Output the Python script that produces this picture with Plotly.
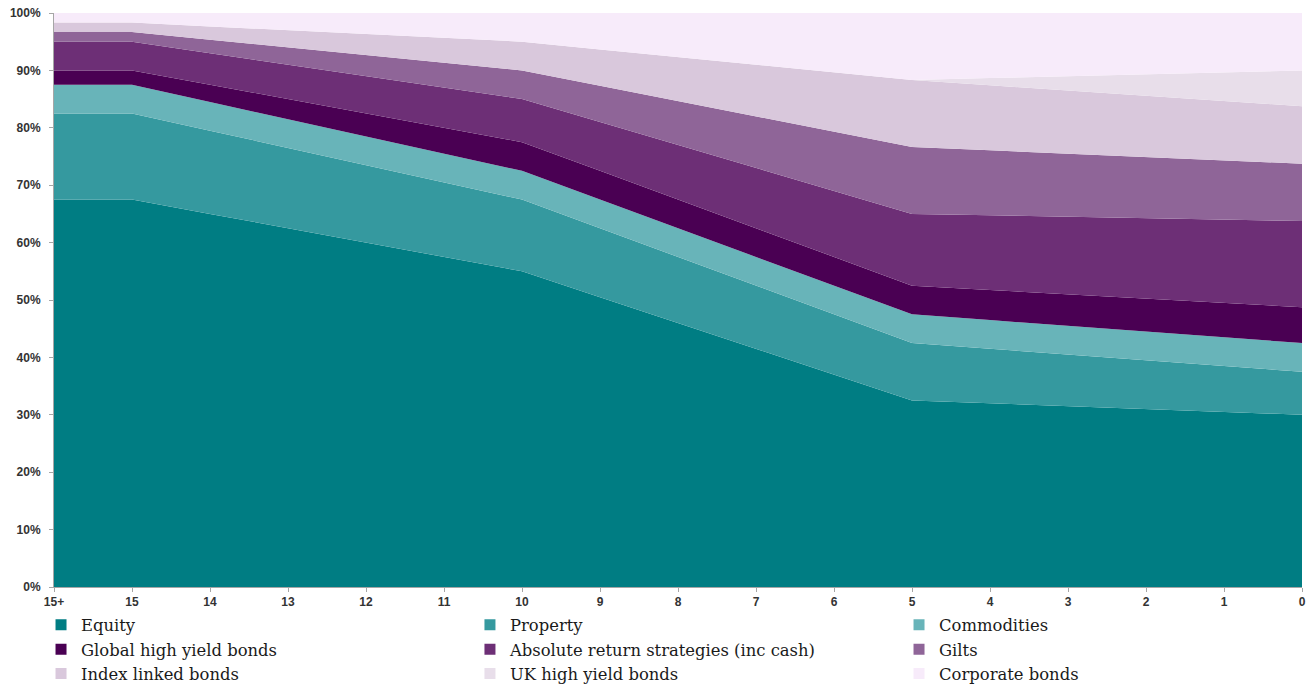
import plotly.graph_objects as go

# Years to retirement along the glide path
years = ["15+", "15", "14", "13", "12", "11", "10", "9", "8", "7", "6",
         "5", "4", "3", "2", "1", "0"]

# Allocation by asset class (% of portfolio)
equity = [67.5, 67.5, 65.0, 62.5, 60.0, 57.5, 55.0, 50.5, 46.0, 41.5, 37.0,
          32.5, 32.0, 31.5, 31.0, 30.5, 30.0]
property_ = [15.0, 15.0, 14.5, 14.0, 13.5, 13.0, 12.5, 12.0, 11.5, 11.0, 10.5,
             10.0, 9.5, 9.0, 8.5, 8.0, 7.5]
commodities = [5.0, 5.0, 5.0, 5.0, 5.0, 5.0, 5.0, 5.0, 5.0, 5.0, 5.0,
               5.0, 5.0, 5.0, 5.0, 5.0, 5.0]
global_hy = [2.5, 2.5, 3.0, 3.5, 4.0, 4.5, 5.0, 5.0, 5.0, 5.0, 5.0,
             5.0, 5.25, 5.5, 5.75, 6.0, 6.25]
absolute_return = [5.0, 5.0, 5.5, 6.0, 6.5, 7.0, 7.5, 8.5, 9.5, 10.5, 11.5,
                   12.5, 13.0, 13.5, 14.0, 14.5, 15.0]
gilts = [1.67, 1.67, 2.33, 3.0, 3.67, 4.33, 5.0, 6.33, 7.67, 9.0, 10.33,
         11.67, 11.33, 11.0, 10.67, 10.33, 10.0]
index_linked = [1.67, 1.67, 2.33, 3.0, 3.67, 4.33, 5.0, 6.33, 7.67, 9.0, 10.33,
                11.67, 11.33, 11.0, 10.67, 10.33, 10.0]
uk_hy = [0.0, 0.0, 0.0, 0.0, 0.0, 0.0, 0.0, 0.0, 0.0, 0.0, 0.0,
         0.0, 1.25, 2.5, 3.75, 5.0, 6.25]
corporate = [1.66, 1.66, 2.34, 3.0, 3.66, 4.34, 5.0, 6.34, 7.66, 9.0, 10.34,
             11.66, 11.34, 11.0, 10.66, 10.34, 10.0]

# name, values, colour, legend column
series = [
    ("Equity", equity, "#007D83", "legend"),
    ("Property", property_, "#35999F", "legend2"),
    ("Commodities", commodities, "#68B4B9", "legend3"),
    ("Global high yield bonds", global_hy, "#4A0053", "legend"),
    ("Absolute return strategies (inc cash)", absolute_return, "#6D2F76", "legend2"),
    ("Gilts", gilts, "#8F6598", "legend3"),
    ("Index linked bonds", index_linked, "#D9C8DC", "legend"),
    ("UK high yield bonds", uk_hy, "#E8DEEA", "legend2"),
    ("Corporate bonds", corporate, "#F7EBFA", "legend3"),
]

fig = go.Figure()
for name, vals, color, _ in series:
    fig.add_trace(go.Scatter(
        x=years, y=vals, name=name, mode="lines",
        stackgroup="alloc", groupnorm="percent",
        line=dict(width=0, color=color), fillcolor=color,
        hoverinfo="skip", showlegend=False,
    ))

# Square swatches for the legend entries
for name, vals, color, leg in series:
    fig.add_trace(go.Scatter(
        x=[None], y=[None], name=name, mode="markers",
        marker=dict(symbol="square", size=11, color=color),
        legend=leg, showlegend=True,
    ))

tick_font = dict(family="Liberation Sans, Arial, sans-serif", size=12,
                 color="#333333", weight="bold")
legend_font = dict(family="DejaVu Serif, Georgia, serif", size=16.4,
                   color="#1a1a1a")

def legend_at(xpos):
    return dict(
        orientation="v", x=xpos, y=-0.036, xanchor="left", yanchor="top",
        bgcolor="rgba(0,0,0,0)", font=legend_font, traceorder="normal",
        itemwidth=30, tracegroupgap=0,
    )

fig.update_layout(
    width=1309, height=685,
    margin=dict(l=54, r=7, t=13, b=98, autoexpand=False),
    paper_bgcolor="white", plot_bgcolor="white",
    showlegend=True,
    legend=legend_at(-0.0104),
    legend2=legend_at(0.3333),
    legend3=legend_at(0.6771),
    xaxis=dict(
        type="category", range=[0, 16], showgrid=False, zeroline=False,
        showline=True, linecolor="#a6a6a6", linewidth=1,
        ticks="outside", ticklen=4, tickcolor="#a6a6a6",
        tickfont=tick_font,
    ),
    yaxis=dict(
        range=[0, 100], dtick=10, ticksuffix="%", showgrid=False,
        zeroline=False, showline=True, linecolor="#a6a6a6", linewidth=1,
        ticks="outside", ticklen=4, tickcolor="#a6a6a6",
        ticklabelstandoff=6, tickfont=tick_font,
    ),
)

fig.write_html("out.html")
